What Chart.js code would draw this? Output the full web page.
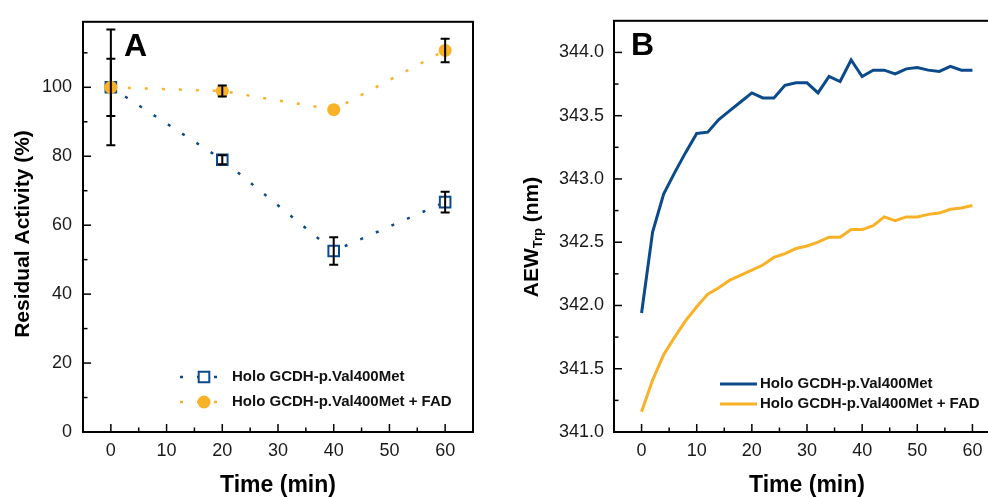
<!DOCTYPE html>
<html>
<head>
<meta charset="utf-8">
<script src="https://cdn.jsdelivr.net/npm/chart.js@4.4.1/dist/chart.umd.min.js"></script>
<style>
  html, body { margin: 0; padding: 0; background: #fff; overflow: hidden; width: 988px; height: 497px; }
  #wrapA { position: absolute; left: 0; top: 0; width: 494px; height: 497px; }
  #wrapB { position: absolute; left: 494px; top: 0; width: 530px; height: 497px; }
</style>
</head>
<body>
<div id="wrapA"><canvas id="chartA" width="494" height="497"></canvas></div>
<div id="wrapB"><canvas id="chartB" width="530" height="497"></canvas></div>
<script>
// ---- Panel A: residual activity ----
const timeA = [0, 20, 40, 60];
const holoA = [100, 79, 52.5, 66.7];
const holoErrA = [8.3, 1.3, 4, 3];
const fadA = [100, 98.9, 93.5, 110.7];
const fadErrA = [16.8, 1.6, 0, 3.4];

// ---- Panel B: AEW of Trp fluorescence ----
const timeB = [0, 2, 4, 6, 8, 10, 12, 14, 16, 18, 20, 22, 24, 26, 28, 30,
               32, 34, 36, 38, 40, 42, 44, 46, 48, 50, 52, 54, 56, 58, 60];
const holoB = [341.94, 342.58, 342.88, 343.05, 343.21, 343.36, 343.37, 343.47, 343.54, 343.61,
               343.68, 343.64, 343.64, 343.74, 343.76, 343.76, 343.68, 343.81, 343.77, 343.94,
               343.81, 343.86, 343.86, 343.83, 343.87, 343.88, 343.86, 343.85, 343.89, 343.86, 343.86];
const fadB = [341.16, 341.41, 341.61, 341.75, 341.88, 341.99, 342.09, 342.14, 342.20, 342.24,
              342.28, 342.32, 342.38, 342.41, 342.45, 342.47, 342.50, 342.54, 342.54, 342.60,
              342.60, 342.63, 342.70, 342.67, 342.70, 342.70, 342.72, 342.73, 342.76, 342.77, 342.79];

// ---- axis ticks ----
const xMajor = [0, 10, 20, 30, 40, 50, 60];
const xMinor = [5, 15, 25, 35, 45, 55];
const yMajorA = [0, 20, 40, 60, 80, 100];
const yMinorA = [10, 30, 50, 70, 90, 110];
const yMajorB = [341.0, 341.5, 342.0, 342.5, 343.0, 343.5, 344.0];
const yMinorB = [341.25, 341.75, 342.25, 342.75, 343.25, 343.75];

const labelHolo = 'Holo GCDH-p.Val400Met';
const labelFad = 'Holo GCDH-p.Val400Met + FAD';

const BLUE = '#0b4a8b';
const ORANGE = '#f9b128';
const FONT = '"Liberation Sans", Arial, Helvetica, sans-serif';

Chart.defaults.font.family = FONT;
Chart.defaults.color = '#1a1a1a';

const pts = (xs, ys) => xs.map((x, i) => ({ x, y: ys[i] }));

/* frame + inward tick marks */
const frameTicks = {
  id: 'frameTicks',
  afterDraw(chart, args, o) {
    const { ctx, chartArea: a, scales: { x, y } } = chart;
    ctx.save();
    ctx.strokeStyle = '#000';
    ctx.lineWidth = 1.5;
    const seg = (x1, y1, x2, y2) => { ctx.beginPath(); ctx.moveTo(x1, y1); ctx.lineTo(x2, y2); ctx.stroke(); };
    o.xMajor.forEach(v => { const p = x.getPixelForValue(v); seg(p, a.bottom, p, a.bottom - 8); });
    o.xMinor.forEach(v => { const p = x.getPixelForValue(v); seg(p, a.bottom, p, a.bottom - 4.5); });
    o.yMajor.forEach(v => { const p = y.getPixelForValue(v); seg(a.left, p, a.left + 8, p); });
    o.yMinor.forEach(v => { const p = y.getPixelForValue(v); seg(a.left, p, a.left + 4.5, p); });
    ctx.lineWidth = 2;
    ctx.strokeRect(a.left, a.top, a.right - a.left, a.bottom - a.top);
    ctx.restore();
  }
};

/* vertical error bars, drawn after each dataset */
const errorBars = {
  id: 'errorBars',
  afterDatasetDraw(chart, args, o) {
    const errs = (o.sets || {})[args.index];
    if (!errs) return;
    const { ctx, scales: { y } } = chart;
    const ds = chart.data.datasets[args.index];
    ctx.save();
    ctx.strokeStyle = '#000';
    ctx.lineWidth = 2;
    args.meta.data.forEach((el, j) => {
      const e = errs[j];
      if (!e) return;
      const v = ds.data[j].y;
      const hi = y.getPixelForValue(v + e), lo = y.getPixelForValue(v - e);
      ctx.beginPath();
      ctx.moveTo(el.x, hi); ctx.lineTo(el.x, lo);
      ctx.moveTo(el.x - 4.5, hi); ctx.lineTo(el.x + 4.5, hi);
      ctx.moveTo(el.x - 4.5, lo); ctx.lineTo(el.x + 4.5, lo);
      ctx.stroke();
    });
    ctx.restore();
  }
};

/* legend inside the plot */
const insideLegend = {
  id: 'insideLegend',
  afterDraw(chart, args, o) {
    const ctx = chart.ctx;
    ctx.save();
    chart.data.datasets.forEach((ds, i) => {
      const y = o.y + i * o.rowGap;
      ctx.strokeStyle = ds.borderColor;
      ctx.lineWidth = ds.borderWidth;
      ctx.setLineDash(ds.borderDash || []);
      ctx.beginPath(); ctx.moveTo(o.x, y); ctx.lineTo(o.x + o.lineLen, y); ctx.stroke();
      ctx.setLineDash([]);
      if (ds.pointRadius > 0) {
        ctx.fillStyle = ds.pointBackgroundColor;
        ctx.strokeStyle = ds.pointBorderColor;
        ctx.lineWidth = ds.pointBorderWidth;
        Chart.helpers.drawPoint(ctx, { pointStyle: ds.pointStyle, radius: ds.pointRadius, borderWidth: ds.pointBorderWidth }, o.x + o.markerAt, y);
      }
      ctx.fillStyle = '#111';
      ctx.font = 'bold 15px ' + FONT;
      ctx.textBaseline = 'middle';
      ctx.textAlign = 'left';
      ctx.fillText(ds.label, o.textX, y);
    });
    ctx.restore();
  }
};

/* panel letter + rotated y title (with subscript parts) */
const panelText = {
  id: 'panelText',
  afterDraw(chart, args, o) {
    const ctx = chart.ctx;
    ctx.save();
    ctx.fillStyle = '#000';
    ctx.font = 'bold 32px ' + FONT;
    ctx.textBaseline = 'alphabetic';
    ctx.fillText(o.letter, o.letterX, o.letterY);

    ctx.translate(o.titleX, o.titleY);
    ctx.rotate(-Math.PI / 2);
    let total = 0;
    o.titleParts.forEach(p => { ctx.font = p.font; total += ctx.measureText(p.text).width; });
    let cx = -total / 2;
    o.titleParts.forEach(p => {
      ctx.font = p.font;
      ctx.fillText(p.text, cx, p.dy);
      cx += ctx.measureText(p.text).width;
    });
    ctx.restore();
  }
};

function xScale(height) {
  return {
    type: 'linear', min: -5, max: 65,
    afterBuildTicks: s => { s.ticks = xMajor.map(v => ({ value: v })); },
    afterFit: s => { s.height = height; },
    grid: { display: false, drawTicks: false },
    border: { display: false },
    ticks: { font: { size: 18 }, padding: 8, maxRotation: 0 },
    title: { display: true, text: 'Time (min)', color: '#000', font: { size: 23, weight: 'bold', lineHeight: 1.0 }, padding: 0 }
  };
}

new Chart(document.getElementById('chartA'), {
  type: 'scatter',
  data: {
    datasets: [
      {
        label: labelHolo,
        data: pts(timeA, holoA),
        showLine: true,
        borderColor: BLUE, borderWidth: 2.5, borderDash: [3, 14],
        pointStyle: 'rect', pointRadius: 7.5, pointBorderWidth: 2,
        pointBorderColor: BLUE, pointBackgroundColor: '#fff',
        order: 1
      },
      {
        label: labelFad,
        data: pts(timeA, fadA),
        showLine: true,
        borderColor: ORANGE, borderWidth: 2.5, borderDash: [3, 14],
        pointStyle: 'circle', pointRadius: 6.5, pointBorderWidth: 0,
        pointBorderColor: ORANGE, pointBackgroundColor: ORANGE,
        order: 0
      }
    ]
  },
  options: {
    responsive: false, animation: false,
    layout: { padding: { top: 17, right: 21, left: 0, bottom: 0 } },
    scales: {
      x: xScale(65),
      y: {
        min: 0, max: 119,
        afterBuildTicks: s => { s.ticks = yMajorA.map(v => ({ value: v })); },
        afterFit: s => { s.width = 83; },
        grid: { display: false, drawTicks: false },
        border: { display: false },
        ticks: { font: { size: 18 }, padding: 11 }
      }
    },
    plugins: {
      legend: { display: false },
      tooltip: { enabled: false },
      frameTicks: { xMajor, xMinor, yMajor: yMajorA, yMinor: yMinorA },
      errorBars: { sets: { 0: holoErrA, 1: fadErrA } },
      insideLegend: { x: 180, y: 377, rowGap: 25, lineLen: 48, markerAt: 24, textX: 232 },
      panelText: {
        letter: 'A', letterX: 124, letterY: 56,
        titleX: 21, titleY: 234,
        titleParts: [{ text: 'Residual Activity (%)', font: 'bold 21px ' + FONT, dy: 7.5 }]
      }
    }
  },
  plugins: [frameTicks, errorBars, insideLegend, panelText]
});

new Chart(document.getElementById('chartB'), {
  type: 'scatter',
  data: {
    datasets: [
      {
        label: labelHolo,
        data: pts(timeB, holoB),
        showLine: true, borderColor: BLUE, borderWidth: 3,
        pointRadius: 0, tension: 0
      },
      {
        label: labelFad,
        data: pts(timeB, fadB),
        showLine: true, borderColor: ORANGE, borderWidth: 3,
        pointRadius: 0, tension: 0
      }
    ]
  },
  options: {
    responsive: false, animation: false,
    layout: { padding: { top: 17, right: 24, left: 0, bottom: 0 } },
    scales: {
      x: xScale(65),
      y: {
        min: 341.0, max: 344.25,
        afterBuildTicks: s => { s.ticks = yMajorB.map(v => ({ value: v })); },
        afterFit: s => { s.width = 120; },
        grid: { display: false, drawTicks: false },
        border: { display: false },
        ticks: { font: { size: 18 }, padding: 10, callback: v => Number(v).toFixed(1) }
      }
    },
    plugins: {
      legend: { display: false },
      tooltip: { enabled: false },
      frameTicks: { xMajor, xMinor, yMajor: yMajorB, yMinor: yMinorB },
      insideLegend: { x: 226, y: 384, rowGap: 20, lineLen: 37, markerAt: 0, textX: 266 },
      panelText: {
        letter: 'B', letterX: 137, letterY: 55,
        titleX: 36, titleY: 237,
        titleParts: [
          { text: 'AEW', font: 'bold 21px ' + FONT, dy: 7.5 },
          { text: 'Trp', font: 'bold 13px ' + FONT, dy: 12 },
          { text: ' (nm)', font: 'bold 21px ' + FONT, dy: 7.5 }
        ]
      }
    }
  },
  plugins: [frameTicks, insideLegend, panelText]
});
</script>
</body>
</html>
